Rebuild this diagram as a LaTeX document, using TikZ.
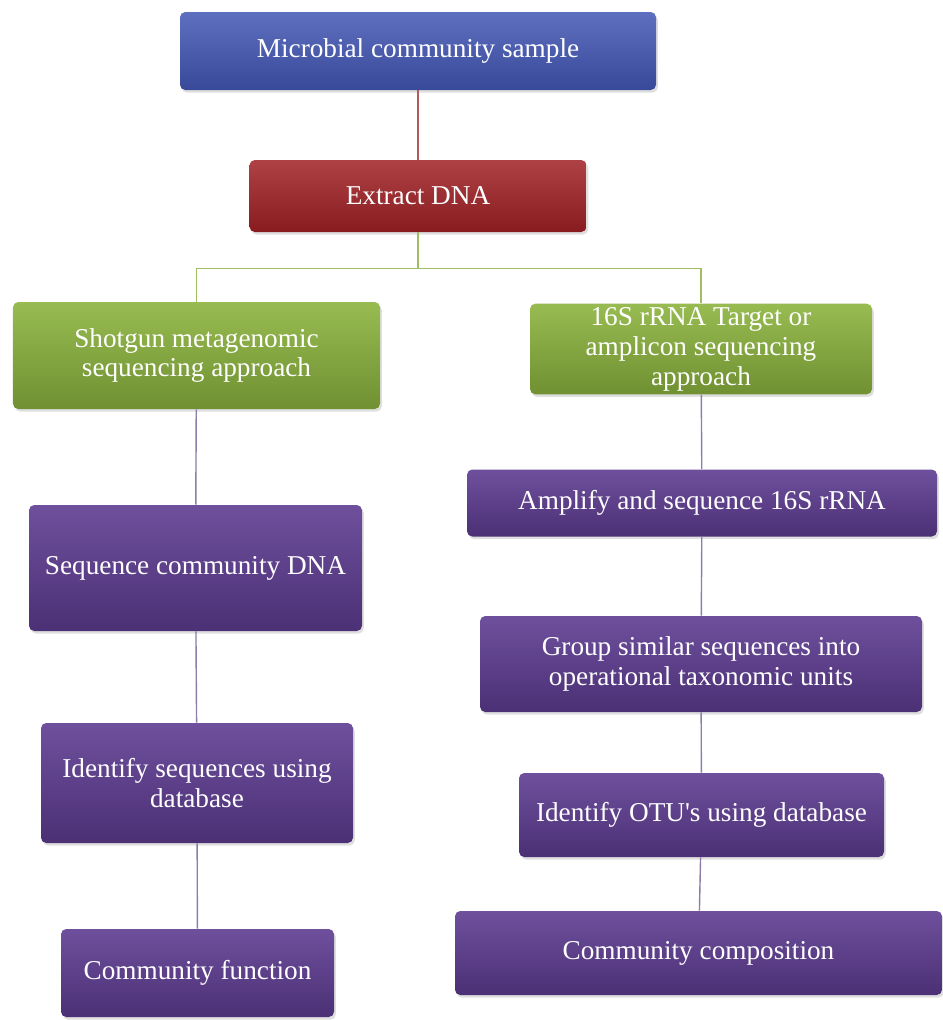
\documentclass[tikz,border=0pt]{standalone}
\usepackage{fontspec}
\setmainfont{Liberation Serif}
\usetikzlibrary{shadows}
\definecolor{boxblue}{RGB}{66,86,180}
\definecolor{boxred}{RGB}{160,32,36}
\definecolor{boxgreen}{RGB}{140,180,62}
\definecolor{boxpurple}{RGB}{94,60,146}
\definecolor{linered}{RGB}{180,90,90}
\definecolor{linegreen}{RGB}{160,190,100}
\definecolor{linepurple}{RGB}{140,125,170}
\tikzset{
    stage/.style={rectangle,rounded corners=3pt,text=white,align=center,
        font=\fontsize{15.5}{17}\selectfont,inner sep=2pt,
        drop shadow={opacity=0.25,shadow xshift=1pt,shadow yshift=-1.5pt}},
    bluebox/.style={stage,top color=boxblue!85!white,bottom color=boxblue!85!black},
    redbox/.style={stage,top color=boxred!85!white,bottom color=boxred!85!black},
    greenbox/.style={stage,top color=boxgreen!90!white,bottom color=boxgreen!80!black},
    purplebox/.style={stage,top color=boxpurple!90!white,bottom color=boxpurple!80!black},
    redline/.style={-,draw=linered,line width=0.8pt},
    greenline/.style={-,draw=linegreen,line width=0.8pt},
    purpleline/.style={-,draw=linepurple,line width=0.8pt},
}
\begin{document}
\begin{tikzpicture}
\useasboundingbox (0,0) rectangle (18.84,-20.4);
\node[bluebox,minimum width=9.52cm,minimum height=1.56cm] (sample) at (8.36,-1.02) {Microbial community sample};
\node[redbox,minimum width=6.74cm,minimum height=1.44cm] (extract) at (8.36,-3.92) {Extract DNA};
\node[greenbox,minimum width=7.34cm,minimum height=2.14cm] (shotgun) at (3.93,-7.11) {Shotgun metagenomic\\sequencing approach};
\node[greenbox,minimum width=6.84cm,minimum height=1.76cm] (amplicon) at (14.02,-6.98) {16S rRNA Target or\\amplicon sequencing\\approach};
\node[purplebox,minimum width=6.66cm,minimum height=2.52cm] (seqdna) at (3.91,-11.36) {Sequence community DNA};
\node[purplebox,minimum width=6.24cm,minimum height=2.4cm] (idseq) at (3.94,-15.66) {Identify sequences using\\database};
\node[purplebox,minimum width=5.46cm,minimum height=1.76cm] (function) at (3.95,-19.46) {Community function};
\node[purplebox,minimum width=9.4cm,minimum height=1.34cm] (amplify) at (14.04,-10.06) {Amplify and sequence 16S rRNA};
\node[purplebox,minimum width=8.84cm,minimum height=1.92cm] (group) at (14.02,-13.28) {Group similar sequences into\\operational taxonomic units};
\node[purplebox,minimum width=7.3cm,minimum height=1.68cm] (idotu) at (14.03,-16.3) {Identify OTU\textquotesingle s using database};
\node[purplebox,minimum width=9.74cm,minimum height=1.68cm] (composition) at (13.97,-19.06) {Community composition};
\draw[redline] (sample) -- (extract);
\draw[greenline] (extract.south) -- ++(0,-0.72) coordinate (split);
\draw[greenline] (split) -| (shotgun.north);
\draw[greenline] (split) -| (amplicon.north);
\draw[purpleline] (shotgun) -- (seqdna);
\draw[purpleline] (seqdna) -- (idseq);
\draw[purpleline] (idseq) -- (function);
\draw[purpleline] (amplicon) -- (amplify);
\draw[purpleline] (amplify) -- (group);
\draw[purpleline] (group) -- (idotu);
\draw[purpleline] (idotu) -- (composition);
\end{tikzpicture}
\end{document}
